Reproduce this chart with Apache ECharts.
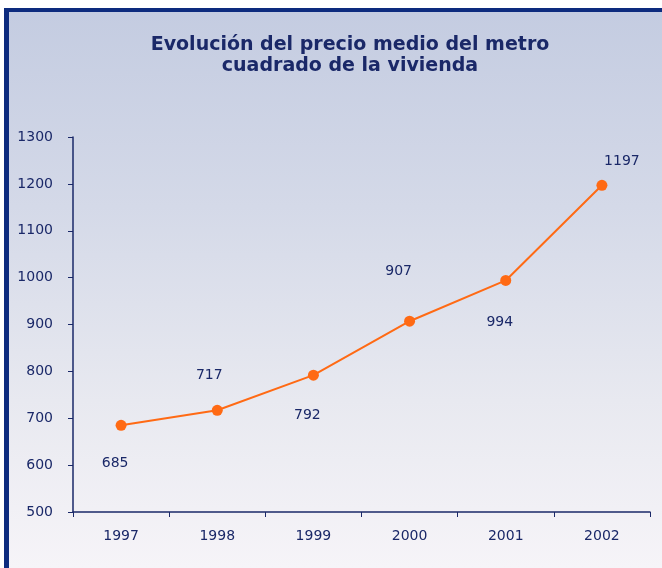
<!DOCTYPE html>
<html>
<head>
<meta charset="utf-8">
<script src="https://cdn.jsdelivr.net/npm/echarts@6/dist/echarts.min.js"></script>
<style>
  body { margin: 0; background: #fff; }
  .frame {
    position: absolute; left: 4px; top: 8px; right: 0; bottom: 0;
    border-left: 5px solid #0d2b7e; border-top: 4px solid #0d2b7e;
    background: linear-gradient(to bottom, #c4cce1 0%, #d4d9e8 35%, #e8e9f0 70%, #f6f4f8 100%);
  }
  #main { position: absolute; left: 0; top: 0; width: 662px; height: 568px; }
</style>
</head>
<body>
<div class="frame"></div>
<div id="main"></div>
<script>
const years = ['1997', '1998', '1999', '2000', '2001', '2002'];
const precio = [685, 717, 792, 907, 994, 1197];
const yTicks = [500, 600, 700, 800, 900, 1000, 1100, 1200, 1300];

// where each value label sits relative to its point
const labelOffsets = [[-6, 38], [-8, -35], [-6, 40], [-11, -50], [-6, 42], [20, -24]];

const navy = '#1a2868';
const font = 'DejaVu Sans, sans-serif';
const chart = echarts.init(document.getElementById('main'));
chart.setOption({
  backgroundColor: 'transparent',
  animation: false,
  title: {
    text: 'Evolución del precio medio del metro\ncuadrado de la vivienda',
    left: 345, top: 30, textAlign: 'center',
    textStyle: { color: navy, fontSize: 19, fontWeight: 'bold', lineHeight: 21, fontFamily: font }
  },
  grid: { left: 73, right: 12, top: 137, bottom: 56 },
  xAxis: {
    type: 'category',
    data: years,
    boundaryGap: true,
    axisLine: { lineStyle: { color: navy, width: 1.5 } },
    axisTick: { show: true, length: 5, lineStyle: { color: navy } },
    axisLabel: { color: navy, fontSize: 14, margin: 17, fontFamily: font }
  },
  yAxis: {
    type: 'value',
    min: yTicks[0], max: yTicks[yTicks.length - 1], interval: 100,
    splitLine: { show: false },
    axisLine: { show: true, lineStyle: { color: navy, width: 1.5 } },
    axisTick: { show: true, length: 5, lineStyle: { color: navy } },
    axisLabel: { color: navy, fontSize: 14, margin: 20, fontFamily: font, formatter: v => String(v) }
  },
  series: [{
    type: 'line',
    data: precio.map((v, i) => ({
      value: v,
      label: { offset: labelOffsets[i] }
    })),
    symbol: 'circle',
    symbolSize: 11,
    lineStyle: { color: '#ff6a14', width: 2 },
    itemStyle: { color: '#ff6a14' },
    label: {
      show: true, position: 'inside',
      color: navy, fontSize: 14, fontFamily: font
    }
  }]
});
</script>
</body>
</html>
